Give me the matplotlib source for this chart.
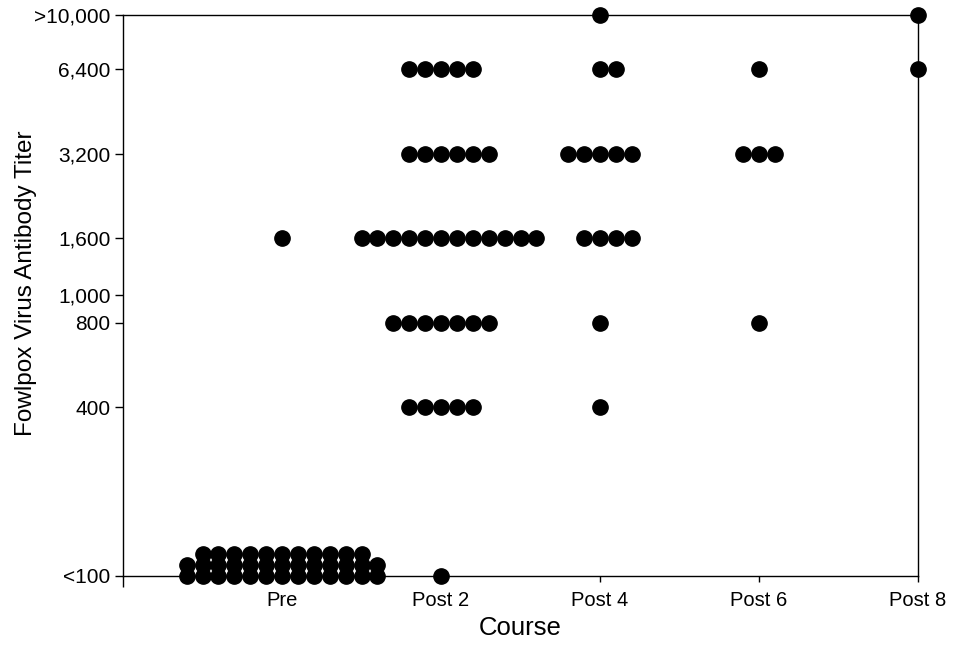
import numpy as np
import matplotlib
matplotlib.use('Agg')
import matplotlib.pyplot as plt
from matplotlib.transforms import ScaledTranslation

plt.rcParams['font.family'] = ['Liberation Sans', 'DejaVu Sans']

# data: number of subjects at each titer level, per course
courses = ['Pre', 'Post 2', 'Post 4', 'Post 6', 'Post 8']
levels = [100, 400, 800, 1600, 3200, 6400, 10000]
counts = {
    'Pre':    [37, 0, 0, 1, 0, 0, 0],
    'Post 2': [1, 5, 7, 12, 6, 5, 0],
    'Post 4': [0, 1, 1, 4, 5, 2, 1],
    'Post 6': [0, 0, 1, 0, 3, 1, 0],
    'Post 8': [0, 0, 0, 0, 0, 1, 1],
}
ytick_vals = [100, 400, 800, 1000, 1600, 3200, 6400, 10000]
ytick_labels = ['<100', '400', '800', '1,000', '1,600', '3,200', '6,400', '>10,000']

fig = plt.figure(figsize=(9.56, 6.49), dpi=100)
ax = fig.add_axes([0.1287, 0.1125, 0.8316, 0.8644])

dx = 0.1        # horizontal spacing of tied dots (data units)
row_max = 13    # dots per row before stacking
dy_pt = 8.0     # vertical stacking step in points

for ci, c in enumerate(courses):
    xc = ci + 1
    for lev, n in zip(levels, counts[c]):
        if n == 0:
            continue
        rows = []
        left = n
        while left > 0:
            rows.append(min(left, row_max))
            left -= row_max
        for r, m in enumerate(rows):
            k = np.arange(m) - (m - 1) // 2
            if r > 0 and m < row_max:
                k = np.arange(m) - (m - 1) / 2
            xs = xc + k * dx
            tr = ax.transData + ScaledTranslation(0, r * dy_pt / 72, fig.dpi_scale_trans)
            ax.plot(xs, [lev] * m, 'o', color='black', markersize=11,
                    transform=tr, clip_on=False, zorder=3)

ax.set_yscale('log')
ax.set_ylim(100, 10000)
ax.set_xlim(0, 5)
ax.set_yticks(ytick_vals)
ax.set_yticklabels(ytick_labels)
ax.yaxis.set_minor_locator(matplotlib.ticker.NullLocator())
ax.set_xticks(range(1, 6))
ax.set_xticklabels(courses)
ax.set_xticks([0, 5], minor=True)

for s in ax.spines.values():
    s.set_linewidth(1.0)
    s.set_color('black')

ax.tick_params(axis='y', direction='out', length=6, width=1, labelsize=15, pad=3)
ax.tick_params(axis='x', which='major', direction='out', length=4, width=1, labelsize=14.5, pad=7)
ax.tick_params(axis='x', which='minor', direction='out', length=8, width=1)

ax.set_xlabel('Course', fontsize=18.5, labelpad=4)
ax.set_ylabel('Fowlpox Virus Antibody Titer', fontsize=17.5)
ax.yaxis.set_label_coords(-0.108, 0.522)

fig.savefig('out.png', dpi=100)
